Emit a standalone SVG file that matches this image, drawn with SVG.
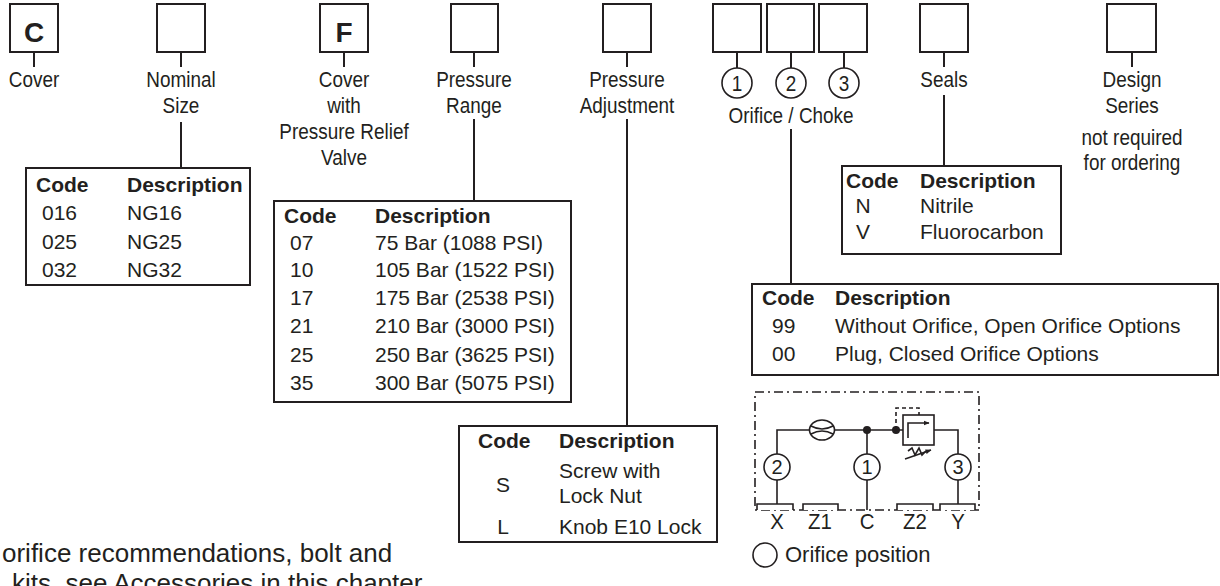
<svg xmlns="http://www.w3.org/2000/svg" width="1220" height="586" viewBox="0 0 1220 586">
<style>
  .box{fill:none;stroke:#231f20;stroke-width:2}
  .ln{fill:none;stroke:#231f20;stroke-width:2}
  .hl{fill:none;stroke:#231f20;stroke-width:1.6}
  .lbl{font-family:"Liberation Sans",Arial,sans-serif;font-size:21.5px;fill:#231f20;text-anchor:middle}
  .big{font-family:"Liberation Sans",Arial,sans-serif;font-size:28px;font-weight:bold;fill:#231f20;text-anchor:middle}
  .th{font-family:"Liberation Sans",Arial,sans-serif;font-size:21px;font-weight:bold;fill:#231f20}
  .td{font-family:"Liberation Sans",Arial,sans-serif;font-size:21px;fill:#231f20}
  .num{font-family:"Liberation Sans",Arial,sans-serif;font-size:20px;fill:#231f20;text-anchor:middle}
  .foot{font-family:"Liberation Sans",Arial,sans-serif;font-size:26px;fill:#231f20}
</style>
<defs>
  <marker id="ah" viewBox="0 0 10 10" refX="9" refY="5" markerWidth="6" markerHeight="6" orient="auto" markerUnits="userSpaceOnUse">
    <path d="M0,1 L10,5 L0,9 Z" fill="#231f20"/>
  </marker>
</defs>

<g id="connectors">
  <path class="ln" d="M34 52 V67"/>
  <path class="ln" d="M181 52 V67 M181 122 V168"/>
  <path class="ln" d="M344 52 V67"/>
  <path class="ln" d="M474 52 V67 M474 119 V201"/>
  <path class="ln" d="M627 52 V67 M627 119 V426"/>
  <path class="ln" d="M737 52 V68 M791 52 V68 M844 52 V68 M791 129 V284"/>
  <path class="ln" d="M944 52 V67 M944 95 V166"/>
  <path class="ln" d="M1132 52 V67"/>
</g>

<g id="node-cover">
  <rect class="box" x="10" y="4" width="48" height="48"/>
  <text class="big" x="34" y="42">C</text>
  <text class="lbl" transform="translate(34 87) scale(0.88 1)">Cover</text>
</g>

<g id="node-size">
  <rect class="box" x="157" y="4" width="48" height="48"/>
  <text class="lbl" transform="translate(181 87) scale(0.88 1)">Nominal</text>
  <text class="lbl" transform="translate(181 113) scale(0.88 1)">Size</text>
</g>

<g id="node-relief">
  <rect class="box" x="320" y="4" width="48" height="48"/>
  <text class="big" x="344" y="42">F</text>
  <text class="lbl" transform="translate(344 87) scale(0.88 1)">Cover</text>
  <text class="lbl" transform="translate(344 113) scale(0.88 1)">with</text>
  <text class="lbl" transform="translate(344 139) scale(0.88 1)">Pressure Relief</text>
  <text class="lbl" transform="translate(344 165) scale(0.88 1)">Valve</text>
</g>

<g id="node-range">
  <rect class="box" x="451" y="4" width="47" height="48"/>
  <text class="lbl" transform="translate(474 87) scale(0.88 1)">Pressure</text>
  <text class="lbl" transform="translate(474 113) scale(0.88 1)">Range</text>
</g>

<g id="node-adjust">
  <rect class="box" x="603" y="4" width="48" height="48"/>
  <text class="lbl" transform="translate(627 87) scale(0.88 1)">Pressure</text>
  <text class="lbl" transform="translate(627 113) scale(0.88 1)">Adjustment</text>
</g>

<g id="node-orifice">
  <rect class="box" x="713" y="4" width="48" height="48"/>
  <rect class="box" x="767" y="4" width="47" height="48"/>
  <rect class="box" x="819" y="4" width="48" height="48"/>
  <circle class="hl" cx="737" cy="83" r="15"/>
  <circle class="hl" cx="791" cy="83" r="15"/>
  <circle class="hl" cx="844" cy="83" r="15"/>
  <text class="lbl" transform="translate(737 91) scale(0.88 1)">1</text>
  <text class="lbl" transform="translate(791 91) scale(0.88 1)">2</text>
  <text class="lbl" transform="translate(844 91) scale(0.88 1)">3</text>
  <text class="lbl" transform="translate(791 123) scale(0.88 1)">Orifice / Choke</text>
</g>

<g id="node-seals">
  <rect class="box" x="920" y="4" width="48" height="48"/>
  <text class="lbl" transform="translate(944 87) scale(0.88 1)">Seals</text>
</g>

<g id="node-design">
  <rect class="box" x="1107" y="4" width="49" height="48"/>
  <text class="lbl" transform="translate(1132 87) scale(0.88 1)">Design</text>
  <text class="lbl" transform="translate(1132 113) scale(0.88 1)">Series</text>
  <text class="lbl" transform="translate(1132 145) scale(0.88 1)">not required</text>
  <text class="lbl" transform="translate(1132 170) scale(0.88 1)">for ordering</text>
</g>

<g id="table-size">
  <rect class="box" x="26" y="168" width="224" height="117"/>
  <text class="th" x="36" y="192">Code</text>
  <text class="th" x="127" y="192">Description</text>
  <text class="td" x="42" y="220">016</text><text class="td" x="127" y="220">NG16</text>
  <text class="td" x="42" y="249">025</text><text class="td" x="127" y="249">NG25</text>
  <text class="td" x="42" y="277">032</text><text class="td" x="127" y="277">NG32</text>
</g>

<g id="table-range">
  <rect class="box" x="274" y="201" width="297" height="201"/>
  <text class="th" x="284" y="223">Code</text>
  <text class="th" x="375" y="223">Description</text>
  <text class="td" x="290" y="250">07</text><text class="td" x="375" y="250">75 Bar (1088 PSI)</text>
  <text class="td" x="290" y="277">10</text><text class="td" x="375" y="277">105 Bar (1522 PSI)</text>
  <text class="td" x="290" y="305">17</text><text class="td" x="375" y="305">175 Bar (2538 PSI)</text>
  <text class="td" x="290" y="333">21</text><text class="td" x="375" y="333">210 Bar (3000 PSI)</text>
  <text class="td" x="290" y="362">25</text><text class="td" x="375" y="362">250 Bar (3625 PSI)</text>
  <text class="td" x="290" y="390">35</text><text class="td" x="375" y="390">300 Bar (5075 PSI)</text>
</g>

<g id="table-adjust">
  <rect class="box" x="459" y="426" width="258" height="116"/>
  <text class="th" x="478" y="448">Code</text>
  <text class="th" x="559" y="448">Description</text>
  <text class="td" x="503" y="492" text-anchor="middle">S</text>
  <text class="td" x="559" y="478">Screw with</text>
  <text class="td" x="559" y="503">Lock Nut</text>
  <text class="td" x="503" y="534" text-anchor="middle">L</text>
  <text class="td" x="559" y="534">Knob E10 Lock</text>
</g>

<g id="table-seals">
  <rect class="box" x="842" y="166" width="219" height="88"/>
  <text class="th" x="846" y="188">Code</text>
  <text class="th" x="920" y="188">Description</text>
  <text class="td" x="863" y="213" text-anchor="middle">N</text><text class="td" x="920" y="213">Nitrile</text>
  <text class="td" x="863" y="239" text-anchor="middle">V</text><text class="td" x="920" y="239">Fluorocarbon</text>
</g>

<g id="table-orifice">
  <rect class="box" x="752" y="284" width="466" height="91"/>
  <text class="th" x="762" y="305">Code</text>
  <text class="th" x="835" y="305">Description</text>
  <text class="td" x="772" y="333">99</text><text class="td" x="835" y="333">Without Orifice, Open Orifice Options</text>
  <text class="td" x="772" y="361">00</text><text class="td" x="835" y="361">Plug, Closed Orifice Options</text>
</g>

<g id="symbol">
  <rect x="755" y="392" width="224" height="118" fill="none" stroke="#231f20" stroke-width="1.6" stroke-dasharray="9 4 2 4"/>
  <g fill="#fff" stroke="#231f20" stroke-width="1.6">
    <path d="M757 510 V504 H793 V510"/>
    <path d="M803 510 V504 H838 V510"/>
    <path d="M897 510 V504 H933 V510"/>
    <path d="M940 510 V504 H975 V510"/>
  </g>
  <path class="hl" d="M777 504 V480 M777 454 V430 H809.5 M834.5 430 H903 M867 430 V454 M867 480 V510 M934 430 H958 V454 M958 480 V504"/>
  <ellipse class="hl" cx="822" cy="430" rx="12.5" ry="10"/>
  <path class="hl" d="M811 426 Q822 432 833 426 M811 434 Q822 428 833 434"/>
  <circle class="hl" cx="777" cy="467" r="13"/>
  <circle class="hl" cx="867" cy="467" r="13"/>
  <circle class="hl" cx="958" cy="467" r="13"/>
  <text class="num" x="777" y="474">2</text>
  <text class="num" x="867" y="474">1</text>
  <text class="num" x="958" y="474">3</text>
  <circle cx="867" cy="430" r="4" fill="#231f20"/>
  <circle cx="896" cy="430" r="4" fill="#231f20"/>
  <rect class="hl" x="903" y="415" width="31" height="30" stroke-width="2"/>
  <path class="hl" d="M896 430 V408 H919 V415" stroke-dasharray="4 3"/>
  <path class="hl" d="M908 438 V423 H929" marker-end="url(#ah)"/>
  <path class="hl" d="M908 451 L912 448 L915 455 L919 448 L922 455 L926 451" stroke-width="1.4"/>
  <path class="hl" d="M905 459 L931 450" stroke-width="1.4" marker-end="url(#ah)"/>
  <text class="lbl" transform="translate(777 529) scale(0.95 1)">X</text>
  <text class="lbl" transform="translate(820 529) scale(0.95 1)">Z1</text>
  <text class="lbl" transform="translate(867 529) scale(0.95 1)">C</text>
  <text class="lbl" transform="translate(915 529) scale(0.95 1)">Z2</text>
  <text class="lbl" transform="translate(958 529) scale(0.95 1)">Y</text>
</g>

<g id="legend">
  <circle class="hl" cx="765" cy="555" r="12"/>
  <text class="td" x="785" y="562" style="font-size:22px">Orifice position</text>
</g>

<g id="footnote">
  <text class="foot" x="2" y="562">orifice recommendations, bolt and</text>
  <text class="foot" x="12" y="592">kits, see Accessories in this chapter</text>
</g>
</svg>
